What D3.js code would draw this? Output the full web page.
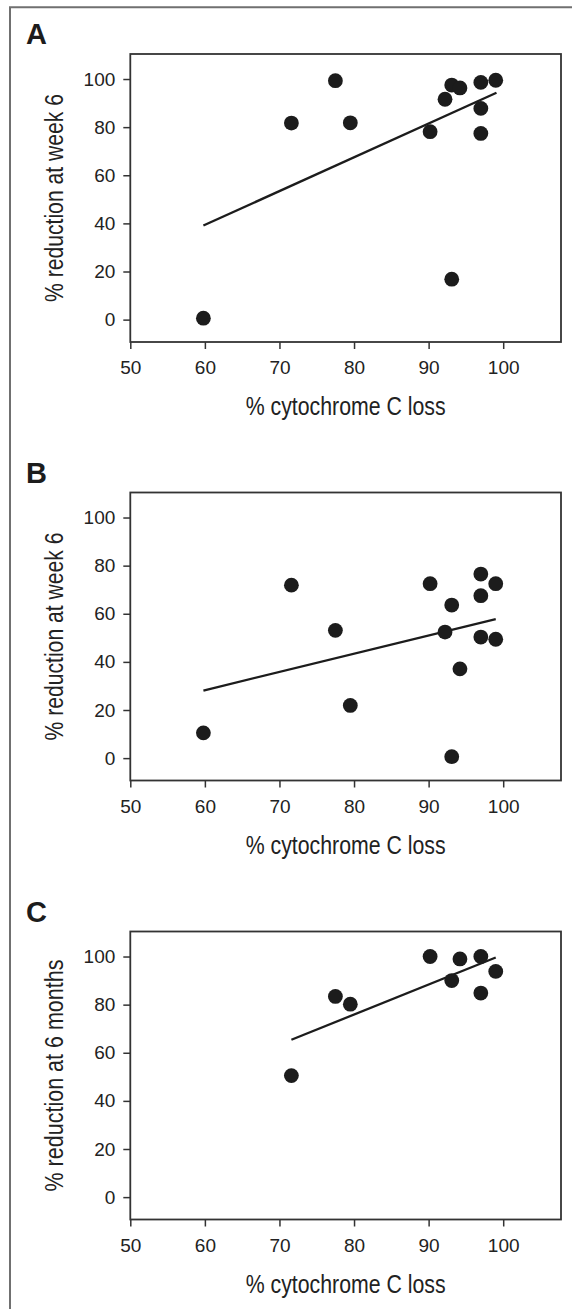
<!DOCTYPE html>
<html>
<head>
<meta charset="utf-8">
<script src="https://cdn.jsdelivr.net/npm/d3@7"></script>
<style>
  html, body { margin: 0; padding: 0; background: #fff; }
  svg { display: block; }
</style>
</head>
<body>
<div id="chart"></div>
<script>
// % cytochrome C loss vs % reduction, three panels (A, B, C)
const lossA = [59.8, 71.6, 77.5, 79.5, 90.2, 92.2, 93.1, 94.2, 93.1, 97.0, 97.0, 97.0, 99.0];
const week6A = [0.6, 81.7, 99.3, 81.8, 78.1, 91.6, 97.5, 96.3, 16.8, 98.6, 87.8, 77.4, 99.5];
const fitA = [[59.8, 39.1], [99.1, 94.3]];

const lossB = [59.8, 71.6, 77.5, 79.5, 90.2, 92.2, 93.1, 94.2, 93.1, 97.0, 97.0, 97.0, 99.0, 99.0];
const week6B = [10.5, 71.9, 53.1, 21.9, 72.5, 52.4, 63.6, 37.1, 0.6, 76.5, 67.5, 50.3, 72.5, 49.4];
const fitB = [[59.8, 28.1], [99.0, 57.8]];

const lossC = [71.6, 77.5, 79.5, 90.2, 93.1, 94.2, 97.0, 97.0, 99.0];
const month6C = [50.5, 83.4, 80.2, 100.0, 90.0, 99.0, 100.0, 84.8, 93.8];
const fitC = [[71.6, 65.4], [99.0, 99.6]];

const xTicks = [50, 60, 70, 80, 90, 100];
const yTicks = [0, 20, 40, 60, 80, 100];
const panelLabels = ["A", "B", "C"];
const yTitles = ["% reduction at week 6", "% reduction at week 6", "% reduction at 6 months"];
const xTitle = "% cytochrome C loss";

const width = 572, height = 1309;
const box = { left: 130.3, right: 561, height: 288 };
const panelTops = [54, 492.5, 931.5];
const font = "'Liberation Sans', Arial, Helvetica, sans-serif";
const narrow = "'Liberation Sans Narrow', 'Arial Narrow', 'Liberation Sans', Arial, sans-serif";
const ink = "#1c1c1c";

const svg = d3.select("#chart")
    .append("svg")
    .attr("width", width)
    .attr("height", height);

svg.append("rect").attr("width", width).attr("height", height).attr("fill", "#fff");

// cropped outer frame (top + left only)
svg.append("path")
    .attr("d", `M10,${height} V7.3 H${width}`)
    .attr("fill", "none")
    .attr("stroke", "#707070")
    .attr("stroke-width", 2);

const panels = [
    { xs: lossA, ys: week6A, fit: fitA },
    { xs: lossB, ys: week6B, fit: fitB },
    { xs: lossC, ys: month6C, fit: fitC }
];

const x = d3.scaleLinear().domain([50, 107.75]).range([box.left, box.right]);
const y = d3.scaleLinear().domain([-9.3, 110.4]).range([box.height, 0]);

panels.forEach((p, i) => {
    const g = svg.append("g").attr("transform", `translate(0,${panelTops[i]})`);

    // panel letter
    g.append("text")
        .attr("x", 26)
        .attr("y", -9.7)
        .attr("font-family", font)
        .attr("font-weight", "bold")
        .attr("font-size", 29)
        .attr("fill", ink)
        .text(panelLabels[i]);

    // x axis
    const xa = g.append("g")
        .attr("transform", `translate(0,${box.height})`)
        .call(d3.axisBottom(x).tickValues(xTicks).tickSize(7).tickSizeOuter(0).tickPadding(12));
    // y axis
    const ya = g.append("g")
        .attr("transform", `translate(${box.left},0)`)
        .call(d3.axisLeft(y).tickValues(yTicks).tickSize(7).tickSizeOuter(0).tickPadding(8));

    [xa, ya].forEach(a => {
        a.select(".domain").remove();
        a.selectAll(".tick line").attr("stroke", "#333").attr("stroke-width", 1.5);
        a.selectAll(".tick text")
            .attr("font-family", font)
            .attr("font-size", 19)
            .attr("fill", "#222");
    });

    // plot box
    g.append("rect")
        .attr("x", box.left)
        .attr("y", 0)
        .attr("width", box.right - box.left)
        .attr("height", box.height)
        .attr("fill", "none")
        .attr("stroke", "#333")
        .attr("stroke-width", 1.8);

    // regression line
    g.append("path")
        .datum(p.fit)
        .attr("fill", "none")
        .attr("stroke", ink)
        .attr("stroke-width", 2.3)
        .attr("d", d3.line().x(d => x(d[0])).y(d => y(d[1])));

    // points
    g.selectAll("circle")
        .data(p.xs.map((v, j) => [v, p.ys[j]]))
        .join("circle")
        .attr("cx", d => x(d[0]))
        .attr("cy", d => y(d[1]))
        .attr("r", 7.4)
        .attr("fill", ink);

    // axis titles
    g.append("text")
        .attr("x", (box.left + box.right) / 2)
        .attr("y", 361)
        .attr("text-anchor", "middle")
        .attr("font-family", narrow)
        .attr("font-size", 25)
        .attr("fill", "#222")
        .attr("textLength", 200)
        .attr("lengthAdjust", "spacingAndGlyphs")
        .text(xTitle);

    g.append("text")
        .attr("transform", `translate(62.5,${box.height / 2}) rotate(-90)`)
        .attr("text-anchor", "middle")
        .attr("font-family", narrow)
        .attr("font-size", 25)
        .attr("fill", "#222")
        .attr("textLength", i === 2 ? 232 : 208)
        .attr("lengthAdjust", "spacingAndGlyphs")
        .text(yTitles[i]);
});
</script>
</body>
</html>
